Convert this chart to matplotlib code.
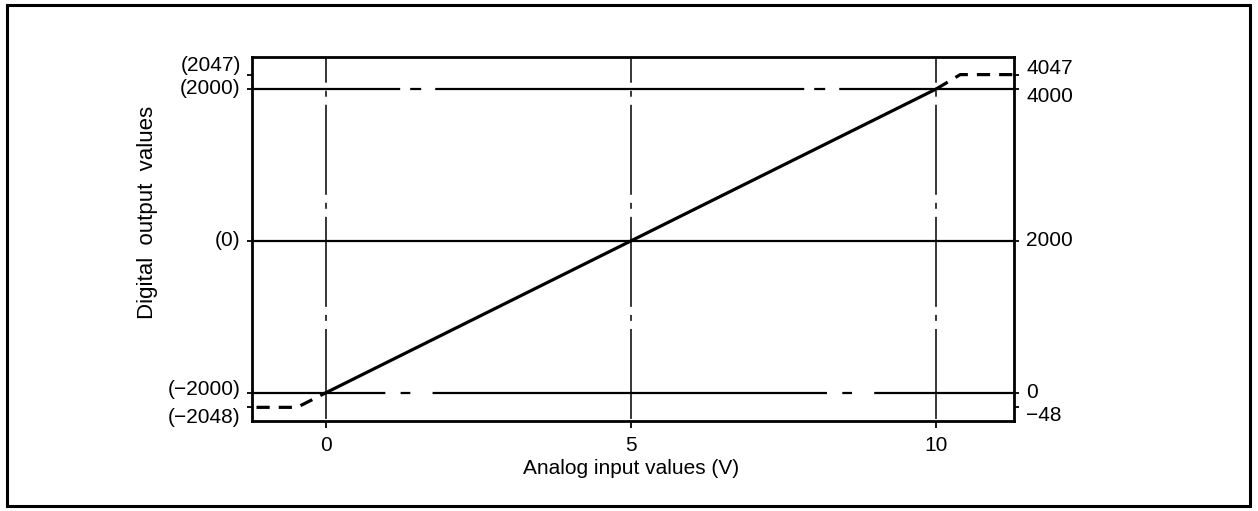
import numpy as np
import matplotlib
matplotlib.use('Agg')
import matplotlib.pyplot as plt
from matplotlib.patches import Rectangle

plt.rcParams['font.family'] = ['Liberation Sans', 'DejaVu Sans']
plt.rcParams['lines.scale_dashes'] = False

# data
x_ticks = [0, 5, 10]
x_labels = ['0', '5', '10']
y_ticks = [2047, 2000, 0, -2000, -2048]
left_labels = ['(2047)', '(2000)', '(0)', '(\u22122000)', '(\u22122048)']
right_labels = ['4047', '4000', '2000', '0', '\u221248']
dashdot_levels = [2000, -2000]
solid_level = 0
vin = [0, 10]
dout = [-2000, 2000]
under_x = [-1.5, -0.47, 0]
under_y = [-2048, -2048, -2000]
over_x = [10, 10.39, 11.5]
over_y = [2000, 2047, 2047]

# label nudges (points), keeps close ticks readable
left_nudge = [6.5, 0, 0, 2, -7]
right_nudge = [4.3, -5.8, 0, 0, -5.8]

# schematic scale: the region beyond +-2000 is stretched
K = 4.0


def fwd(y):
    y = np.asarray(y, dtype=float)
    return np.where(y > 2000, 2000 + K * (y - 2000),
                    np.where(y < -2000, -2000 + K * (y + 2000), y))


def inv(t):
    t = np.asarray(t, dtype=float)
    return np.where(t > 2000, 2000 + (t - 2000) / K,
                    np.where(t < -2000, -2000 + (t + 2000) / K, t))


fig = plt.figure(figsize=(12.58, 5.11), dpi=100)
ax = fig.add_axes([0.2003, 0.1761, 0.6057, 0.7124])
ax.set_yscale('function', functions=(fwd, inv))
ax.set_xlim(-1.21, 11.27)
ax.set_ylim(-2093, 2105)

for s in ax.spines.values():
    s.set_linewidth(2.0)

# grid-like reference lines
for x in x_ticks:
    ax.axvline(x, ymin=1, ymax=0, color='k', lw=1.1,
               linestyle=(46.3, (64.8, 5.8, 4.3, 5.8)))
line_styles = {2000: (159.0, (265.7, 7.2, 7.9, 10.1)),
               -2000: (188.0, (284.0, 11.0, 7.0, 16.0))}
for lv in dashdot_levels:
    ax.axhline(lv, color='k', lw=1.6, linestyle=line_styles[lv])
ax.axhline(solid_level, color='k', lw=1.6)

# transfer characteristic
ax.plot(vin, dout, color='k', lw=2.3, solid_capstyle='round')
ax.plot(under_x, under_y, color='k', lw=2.3, linestyle=(0, (9.5, 6.5)))
ax.plot(over_x, over_y, color='k', lw=2.3, linestyle=(0, (9.5, 6.5)))

ax.set_xticks(x_ticks)
ax.set_xticklabels(x_labels, fontsize=15)
ax.tick_params(axis='x', direction='out', length=5, width=1.3, pad=6)
ax.set_yticks(y_ticks)
ax.set_yticks([], minor=True)
ax.set_yticklabels([])
ax.tick_params(axis='y', direction='out', length=3.5, width=1.3,
               left=True, right=True)

ytr = ax.get_yaxis_transform()
for v, lab, dy in zip(y_ticks, left_labels, left_nudge):
    ax.annotate(lab, xy=(0, v), xycoords=ytr, xytext=(-8, dy),
                textcoords='offset points', ha='right', va='center', fontsize=15)
for v, lab, dy in zip(y_ticks, right_labels, right_nudge):
    ax.annotate(lab, xy=(1, v), xycoords=ytr, xytext=(9, dy),
                textcoords='offset points', ha='left', va='center', fontsize=15)

ax.set_xlabel('Analog input values (V)', fontsize=15)
ax.xaxis.set_label_coords(0.497, -0.105)
ax.set_ylabel('Digital  output  values', fontsize=16)
ax.yaxis.set_label_coords(-0.123, 0.574)

fig.add_artist(Rectangle((0.0056, 0.0098), 0.988, 0.9802, transform=fig.transFigure,
                         fill=False, lw=2.2, ec='k'))

fig.savefig('out.png', dpi=100)
